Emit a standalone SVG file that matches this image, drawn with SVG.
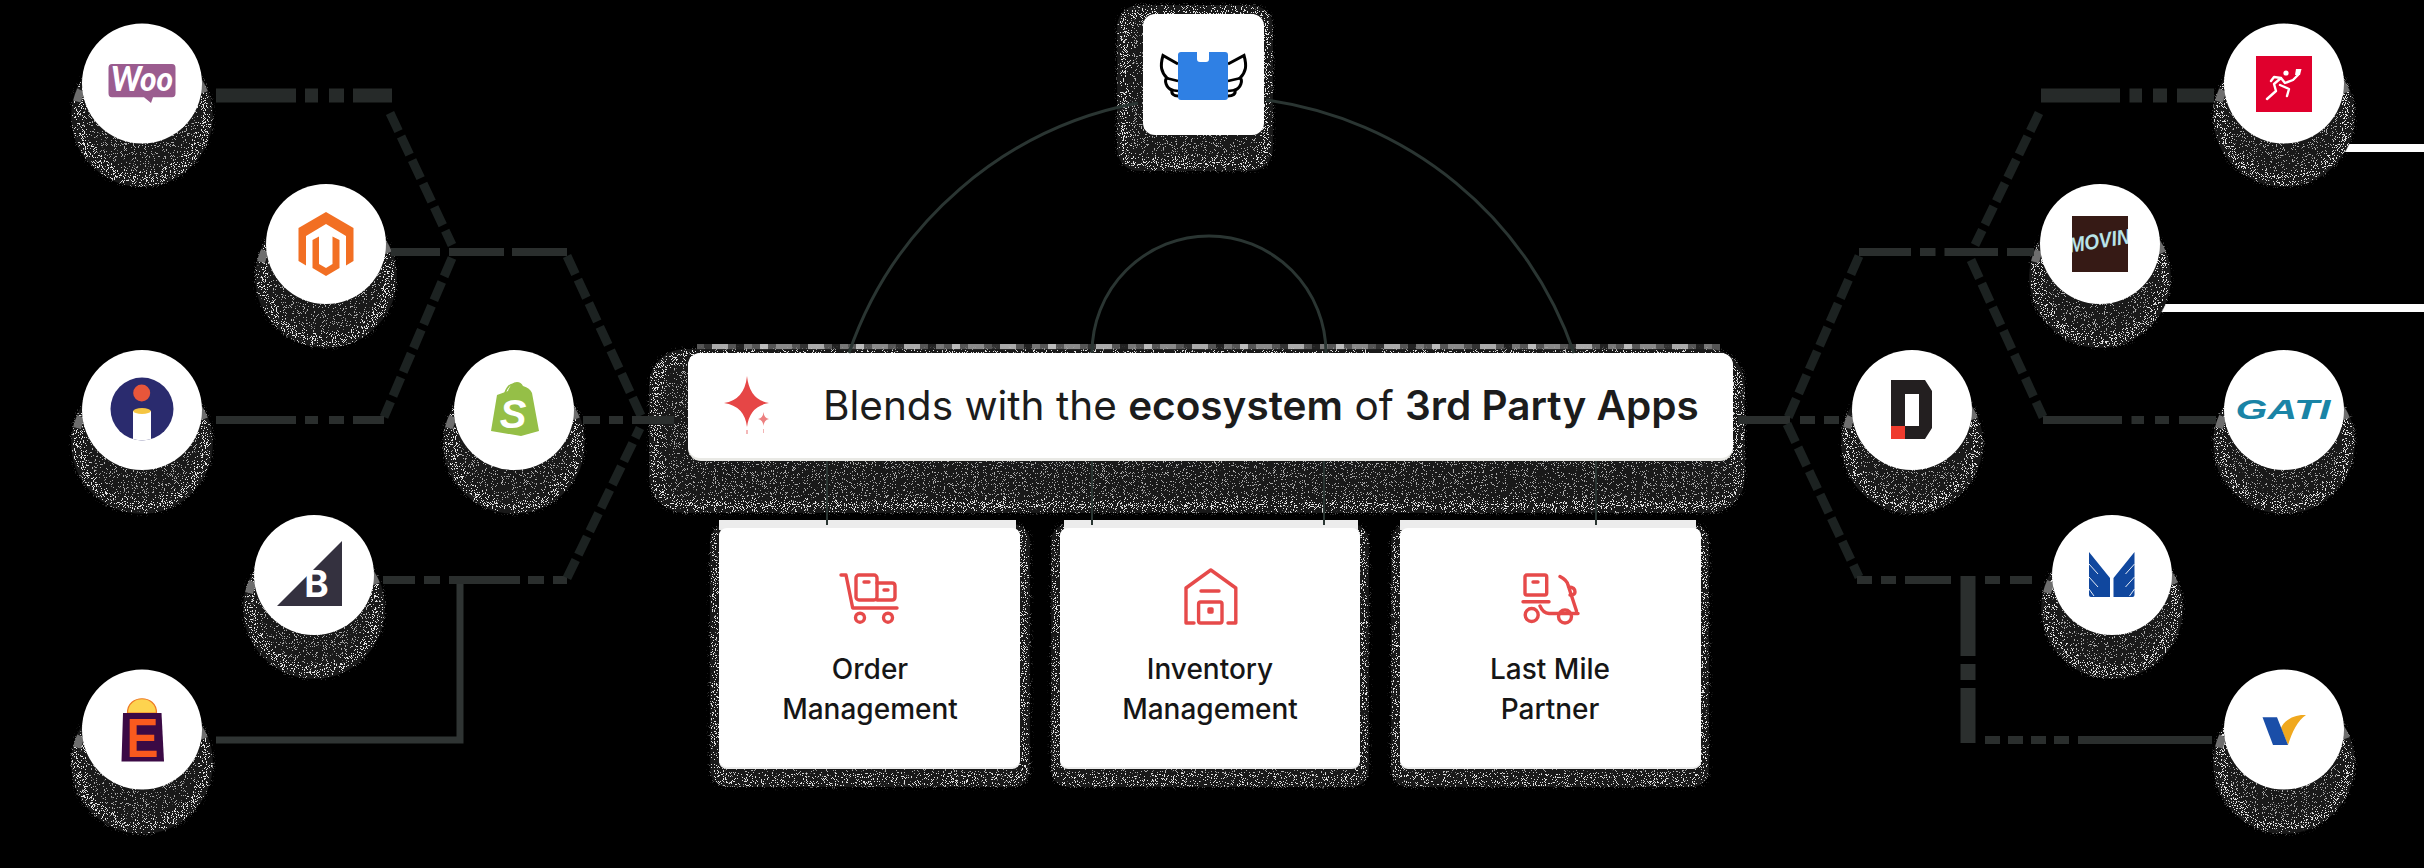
<svg xmlns="http://www.w3.org/2000/svg" width="2424" height="868" viewBox="0 0 2424 868">
<style>
.bg{fill:#000}
.disc{fill:#fff}
.card{fill:#fff}
.sh{filter:url(#dither);fill:#fff;fill-opacity:.05;stroke:#fff;stroke-opacity:.42;stroke-width:5}
.halo{fill:none;stroke:#6e6e6e;stroke-width:8;stroke-dasharray:12 14}
.hl{fill:none;stroke:#262a29;stroke-width:14}
.hm{fill:none;stroke:#2a2e2d;stroke-width:8}
.hs{fill:none;stroke:#2f3433;stroke-width:7}
.dg{fill:none;stroke:#1c2221;stroke-width:9;stroke-dasharray:20 6}
.thin{fill:none;stroke:#2a3532;stroke-width:3}
.ico{fill:none;stroke:#e64a4a;stroke-width:3.4;stroke-linecap:round;stroke-linejoin:round}
.t{font-family:Inter,"Liberation Sans",sans-serif;fill:#1c1c1c}
.cardt{font-size:28px;font-weight:500;text-anchor:middle;fill:#161616}
</style>
<defs>
<filter id="dither" x="-15%" y="-15%" width="130%" height="130%" color-interpolation-filters="sRGB">
<feGaussianBlur in="SourceAlpha" stdDeviation="3" result="b"/>
<feTurbulence type="fractalNoise" baseFrequency="1.1" numOctaves="2" seed="4" result="n"/>
<feColorMatrix in="n" type="matrix" values="0 0 0 0 0 0 0 0 0 0 0 0 0 0 0 3.4 0 0 0 -1.2" result="na"/>
<feComposite in="b" in2="na" operator="arithmetic" k2="1" k3="1" k4="-1" result="m"/>
<feComponentTransfer in="m" result="mm"><feFuncA type="linear" slope="14"/></feComponentTransfer>
<feFlood flood-color="#e4e4e4"/>
<feComposite in2="mm" operator="in" result="spk"/>
<feComponentTransfer in="b" result="shape"><feFuncA type="linear" slope="40" intercept="-1"/></feComponentTransfer>
<feFlood flood-color="#191919"/>
<feComposite in2="shape" operator="in" result="base"/>
<feMerge><feMergeNode in="base"/><feMergeNode in="spk"/></feMerge>
</filter>
<path id="haloArc" class="halo" d="M-65 18A67 67 0 0 1 65 18"/>
<pattern id="blk" width="96" height="8" patternUnits="userSpaceOnUse" y="344">
<rect width="96" height="8" fill="#555"/>
<rect x="8" width="16" height="8" fill="#8a8a8a"/><rect x="32" width="8" height="8" fill="#333"/>
<rect x="40" width="16" height="8" fill="#aaa"/><rect x="64" width="8" height="8" fill="#222"/>
<rect x="72" width="8" height="8" fill="#777"/><rect x="88" width="8" height="8" fill="#bbb"/>
</pattern>
<clipPath id="mvClip"><rect x="2072" y="216" width="56" height="56"/></clipPath>
<clipPath id="iClip"><circle cx="142" cy="409" r="31.5"/></clipPath>
</defs>
<rect class="bg" width="2424" height="868"/>
<rect x="2344" y="144" width="80" height="8" fill="#fff"/>
<rect x="2160" y="304" width="264" height="8" fill="#fff"/>

<g id="node-woo">
<circle class="sh" cx="142" cy="116" r="64"/><use href="#haloArc" x="142" y="83.5"/><circle class="disc" cx="142" cy="83.5" r="60"/>
<path d="M112 64H172Q175.500 64 175.500 68V93Q175.500 97.300 172 97.300H153L151 103L144 97.300H112Q108.500 97.300 108.500 93V68Q108.500 64 112 64Z" fill="#9b5c8f"/>
<text x="142" y="91" font-family="Lato,'Liberation Sans',sans-serif" font-weight="900" font-style="italic" font-size="34" fill="#fff" text-anchor="middle" textLength="62" lengthAdjust="spacingAndGlyphs">Woo</text>
</g>
<g id="node-magento">
<circle class="sh" cx="326" cy="277" r="64"/><use href="#haloArc" x="326" y="244"/><circle class="disc" cx="326" cy="244" r="60"/>
<path d="M326 212L353.500 228V261L346 265.500V236L326 224L306 236V265.500L298.500 261V228Z M326 276L312.500 268V240L319 236.500V264L326 268L332.500 264V236.500L339.500 240V268Z" fill="#f26f23"/>
</g>
<g id="node-i">
<circle class="sh" cx="142" cy="443" r="64"/><use href="#haloArc" x="142" y="410"/><circle class="disc" cx="142" cy="410" r="60"/>
<circle cx="142" cy="409" r="31.500" fill="#2a2b6e"/>
<circle cx="141.700" cy="393" r="8.500" fill="#e8563a"/>
<g clip-path="url(#iClip)"><rect x="133" y="411" width="18" height="35" fill="#fff"/></g>
<ellipse cx="142" cy="411" rx="8.800" ry="3" fill="#f5c542"/>
</g>
<g id="node-shopify">
<circle class="sh" cx="514" cy="443" r="64"/><use href="#haloArc" x="514" y="410"/><circle class="disc" cx="514" cy="410" r="60"/>
<path d="M491 431L497 395L508 391Q511 382 517 382Q521 382 523 386Q530 388 532 393L539 431L521 436Z" fill="#95bf47"/>
<path d="M505 393Q508 384 514 384Q519 384 520 392" fill="none" stroke="#95bf47" stroke-width="1.600"/>
<text x="513" y="428" font-family="'Liberation Sans',sans-serif" font-weight="700" font-style="italic" font-size="40" fill="#fff" text-anchor="middle">S</text>
</g>
<g id="node-bigcommerce">
<circle class="sh" cx="314" cy="608" r="64"/><use href="#haloArc" x="314" y="575"/><circle class="disc" cx="314" cy="575" r="60"/>
<path d="M342 541V606H277Z" fill="#34313f"/>
<text x="316.500" y="597" font-family="Inter,'Liberation Sans',sans-serif" font-weight="700" font-size="37" fill="#fff" text-anchor="middle">B</text>
</g>
<g id="node-e">
<circle class="sh" cx="142" cy="763" r="64"/><use href="#haloArc" x="142" y="729.500"/><circle class="disc" cx="142" cy="729.500" r="60"/>
<path d="M127.500 713C127.500 694 156.500 694 156.500 713Z" fill="#fdd34f" stroke="#ee7a22" stroke-width="1.200"/>
<path d="M123 713H161.500L164 761.500H121.500Z" fill="#3b0a45"/>
<text x="142.500" y="757" font-family="'Liberation Sans',sans-serif" font-weight="700" font-size="56" fill="#f95a1e" text-anchor="middle" textLength="32" lengthAdjust="spacingAndGlyphs">E</text>
</g>

<g id="node-top">
<rect class="sh" x="1124" y="12" width="142" height="152" rx="14"/>
<rect class="card" x="1143" y="14" width="121" height="121" rx="12"/>
<path d="M1178 64L1163 55.500C1160 66 1161 72 1167 78C1164 80 1166 88 1172 90C1171 94 1174 96 1178 96" fill="none" stroke="#000" stroke-width="3"/>
<path d="M1166 78L1178 81M1171 90L1178 91" stroke="#000" stroke-width="2.500" fill="none"/>
<path d="M1228 64L1244 55.500C1247 66 1246 72 1240 78C1243 80 1241 88 1235 90C1236 94 1233 96 1228 96" fill="none" stroke="#000" stroke-width="3"/>
<path d="M1241 78L1228 81M1236 90L1228 91" stroke="#000" stroke-width="2.500" fill="none"/>
<path d="M1181 52H1197V59Q1197 62 1200 62H1206Q1209 62 1209 59V52H1225Q1228 52 1228 55V97Q1228 100 1225 100H1181Q1178 100 1178 97V55Q1178 52 1181 52Z" fill="#2f80e4"/>
</g>

<g id="node-banner">
<rect x="697" y="344" width="1023" height="9" fill="url(#blk)"/>
<rect class="sh" x="656" y="356" width="1082" height="150" rx="28"/>
<rect x="688" y="353" width="1045" height="108" rx="13" fill="#e9e9e5"/>
<rect class="card" x="688" y="353" width="1045" height="105" rx="12"/>
<path d="M747 376Q749.500 400 769 403Q749.500 406 747 427Q744.500 406 724 403Q744.500 400 747 376Z" fill="#e64646"/>
<path d="M763.500 412Q764 418 769 419Q764 420 763.500 426Q763 420 758 419Q763 418 763.500 412Z" fill="#ec8080"/>
<rect x="746.300" y="430" width="1.400" height="4" fill="#ef9a9a"/>
<rect x="763" y="429" width="1" height="4" fill="#f3b5b5"/>
<text class="t" x="823" y="420" font-size="40.500" font-weight="400">Blends with the <tspan font-weight="600">ecosystem</tspan> of <tspan font-weight="600">3rd Party Apps</tspan></text>
</g>

<g id="node-order">
<rect class="sh" x="716" y="530" width="308" height="251" rx="10" style="stroke-opacity:.26"/>
<rect x="719" y="520" width="297" height="10" fill="#ececec"/>
<rect x="719" y="528" width="301" height="241" rx="8" fill="#ececec"/>
<rect class="card" x="719" y="528" width="301" height="239" rx="8"/>
<path class="ico" d="M841 575H846L852.700 608H897"/>
<rect class="ico" x="856" y="575" width="21" height="25" rx="3"/>
<path class="ico" d="M877 583H892Q895 583 895 586V597Q895 600 892 600H877M864 582H869M884 590H888"/>
<circle class="ico" cx="860" cy="617.700" r="4.500"/><circle class="ico" cx="888" cy="617.700" r="4.500"/>
<text class="t cardt" x="870" y="679">Order</text><text class="t cardt" x="870" y="719">Management</text>
</g>
<g id="node-inventory">
<rect class="sh" x="1057" y="530" width="306" height="251" rx="10" style="stroke-opacity:.26"/>
<rect x="1064" y="520" width="294" height="10" fill="#ececec"/>
<rect x="1060" y="528" width="300" height="241" rx="8" fill="#ececec"/>
<rect class="card" x="1060" y="528" width="300" height="239" rx="8"/>
<path class="ico" d="M1194 623H1186V588L1210.800 570L1235.800 588V623H1228M1201 591H1219"/>
<rect class="ico" x="1198.600" y="602" width="23.400" height="21" rx="2"/>
<rect class="ico" x="1209" y="609" width="3" height="3"/>
<text class="t cardt" x="1210" y="679">Inventory</text><text class="t cardt" x="1210" y="719">Management</text>
</g>
<g id="node-lastmile">
<rect class="sh" x="1397" y="530" width="306" height="251" rx="10" style="stroke-opacity:.26"/>
<rect x="1400" y="520" width="296" height="10" fill="#ececec"/>
<rect x="1400" y="528" width="301" height="241" rx="8" fill="#ececec"/>
<rect class="card" x="1400" y="528" width="301" height="239" rx="8"/>
<rect class="ico" x="1525" y="575" width="21.700" height="20" rx="2"/>
<path class="ico" d="M1533 582H1538M1523 601.700H1549M1560 576.500Q1567 580 1568 585L1576.500 611M1568.500 587Q1575 587 1575 592Q1575 595 1570 595M1540 606Q1543 613 1549 613.500H1578"/>
<circle class="ico" cx="1531.700" cy="615" r="6.500"/><circle class="ico" cx="1565" cy="616.500" r="6.500"/>
<text class="t cardt" x="1550" y="679">Last Mile</text><text class="t cardt" x="1550" y="719">Partner</text>
</g>

<g id="node-runner">
<circle class="sh" cx="2284" cy="116" r="64"/><use href="#haloArc" x="2284" y="83.500"/><circle class="disc" cx="2284" cy="83.500" r="60"/>
<rect x="2256" y="56" width="56" height="56" fill="#e0002d"/>
<path d="M2267 99L2276 91L2274 84L2281 78L2285 83L2293 80L2298 75M2280 85L2289 89L2287 96M2281 78L2274 77L2271 81" fill="none" stroke="#fff" stroke-width="2.400" stroke-linecap="round" stroke-linejoin="round"/>
<circle cx="2286" cy="73" r="2.600" fill="#fff"/>
<path d="M2296 69H2301.500L2300 75H2295Z" fill="#fff"/>
</g>
<g id="node-movin">
<circle class="sh" cx="2100" cy="277" r="64"/><use href="#haloArc" x="2100" y="244"/><circle class="disc" cx="2100" cy="244" r="60"/>
<rect x="2072" y="216" width="56" height="56" fill="#361a15"/>
<g clip-path="url(#mvClip)"><text x="2100" y="248" transform="rotate(-9 2100 244)" font-family="'Liberation Sans',sans-serif" font-weight="700" font-style="italic" font-size="21" fill="#b8e3e8" text-anchor="middle" textLength="62" lengthAdjust="spacingAndGlyphs">MOVIN</text></g>
</g>
<g id="node-gati">
<circle class="sh" cx="2284" cy="443" r="64"/><use href="#haloArc" x="2284" y="410"/><circle class="disc" cx="2284" cy="410" r="60"/>
<text x="2283" y="419" font-family="'Liberation Sans',sans-serif" font-weight="700" font-style="italic" font-size="28" fill="#1a84a6" text-anchor="middle" textLength="95" lengthAdjust="spacingAndGlyphs">GATI</text>
</g>
<g id="node-d">
<circle class="sh" cx="1912" cy="443" r="64"/><use href="#haloArc" x="1912" y="410"/><circle class="disc" cx="1912" cy="410" r="60"/>
<path d="M1891 380H1925L1932 391V428L1925 439H1905V426H1919V394H1905V426H1891Z" fill="#231f20"/>
<rect x="1891" y="426" width="14" height="13" fill="#ef3b2d"/>
</g>
<g id="node-m">
<circle class="sh" cx="2112" cy="608" r="64"/><use href="#haloArc" x="2112" y="575"/><circle class="disc" cx="2112" cy="575" r="60"/>
<path d="M2089 552L2110 578V597H2091Q2089 597 2089 595Z M2134.500 552L2113.500 578V597H2132.500Q2134.500 597 2134.500 595Z" fill="#10479e"/>
<path d="M2089 564L2098 574M2089 577L2098 587M2089 589L2094 596M2134.500 564L2125.500 574M2134.500 577L2125.500 587M2134.500 589L2129.500 596" stroke="#fff" stroke-width=".9" fill="none"/>
</g>
<g id="node-v">
<circle class="sh" cx="2284" cy="763" r="64"/><use href="#haloArc" x="2284" y="729.500"/><circle class="disc" cx="2284" cy="729.500" r="60"/>
<path d="M2281 728C2284 720 2295 714 2306 715C2298 720 2292 732 2288 745Z" fill="#f0a81e"/>
<path d="M2262.500 717.300H2277L2288 745H2273Z" fill="#1a4ea8"/>
</g>

<g id="connectors">
<path class="thin" d="M849 353A380 380 0 0 1 1138 103"/>
<path class="thin" d="M1266 100A380 380 0 0 1 1574 353"/>
<path class="thin" d="M1092 353A117 117 0 0 1 1326 353"/>
<path class="thin" style="stroke-width:2" d="M827 461V525M1092 461V525M1324 461V525M1596 461V525"/>
<path class="hl" stroke-dasharray="80 9 13 11 15 9 39 100" d="M216 95.500H392"/>
<path class="dg" d="M390 113L452 245"/>
<path class="hm" stroke-dasharray="49 9 55 8 55 100" d="M391 252H567"/>
<path class="dg" d="M567 256L643 420"/>
<path class="dg" d="M452 258L384 417"/>
<path class="hm" stroke-dasharray="80 9 13 11 15 9 31 100" d="M216 420H384"/>
<path class="hm" stroke-dasharray="17 9 14 9 42 100" d="M583 420H674"/>
<path class="hm" stroke-dasharray="32 9 16 9 71 8 16 9 14 100" d="M383 580H567"/>
<path class="dg" d="M567 578L640 428"/>
<path class="hs" d="M216 740H460V584"/>
<path class="hl" stroke-dasharray="79 9.500 12.500 11 14 10 37 100" d="M2041 95.500H2216"/>
<path class="dg" d="M2039 113L1975 245"/>
<path class="hm" stroke-dasharray="52 9 15.500 9 53.500 9 27 100" d="M1859 252H2034"/>
<path class="dg" d="M1971 260L2043 417"/>
<path class="dg" d="M1859 256L1787 420"/>
<path class="hm" stroke-dasharray="79 9.500 12.500 11 14 10 37 100" d="M2043 420H2216"/>
<path class="hm" stroke-dasharray="52 10 15 9 15 100" d="M1738 420H1839"/>
<path class="dg" d="M1787 424L1859 577"/>
<path class="hm" stroke-dasharray="15 9 15 9 46 100" d="M1857 580H1951"/>
<path class="hm" stroke-dasharray="15 10 22 100" d="M1985 580H2032"/>
<path class="hl" style="stroke-width:15;stroke:#2b2f2e" stroke-dasharray="80 8 16 8 55 100" d="M1968 576V743"/>
<path class="hm" stroke-dasharray="15 8 15 8 15 8 15 9 134 100" d="M1985 740H2216"/>
</g>
</svg>
